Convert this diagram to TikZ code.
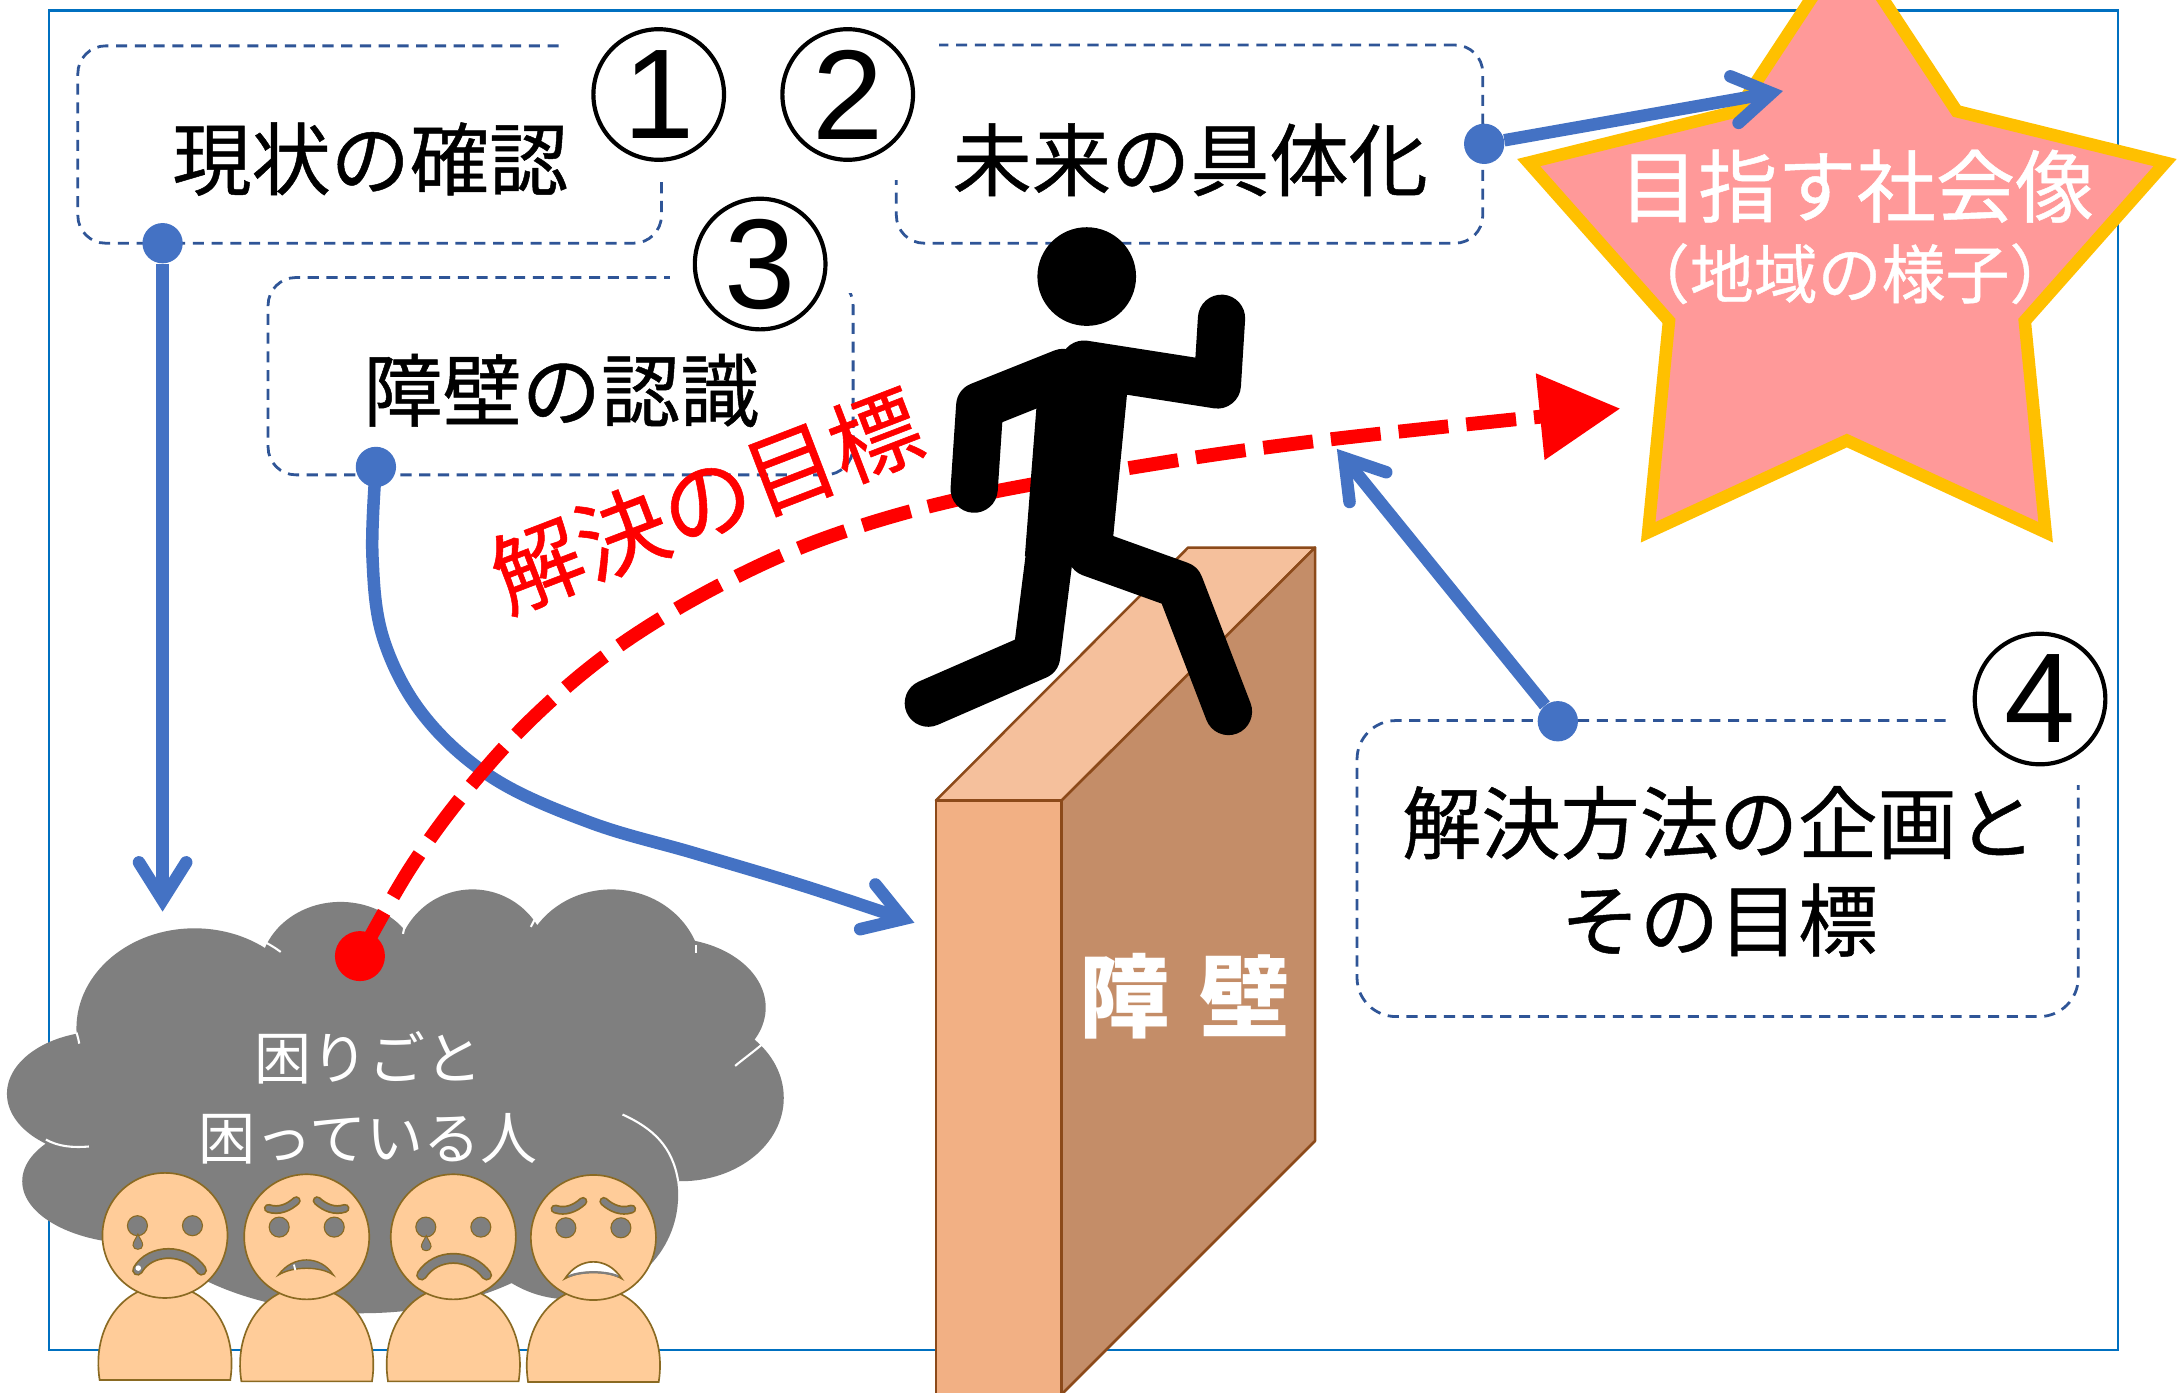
\documentclass[tikz,border=0pt]{standalone}
\usepackage{fontspec}
\newfontfamily\jp{Noto Sans CJK JP}
\newfontfamily\jpm{Noto Sans CJK JP}[FakeBold=0.6]
\newfontfamily\lsans{Liberation Sans}
\usetikzlibrary{arrows.meta}

\definecolor{frameblue}{HTML}{0070C0}
\definecolor{boxdash}{HTML}{2F5597}
\definecolor{linkblue}{HTML}{4472C4}
\definecolor{starpink}{HTML}{FF9999}
\definecolor{staredge}{HTML}{FFC000}
\definecolor{cloudgray}{HTML}{7F7F7F}
\definecolor{wallfront}{HTML}{F2B084}
\definecolor{walltop}{HTML}{F5C09C}
\definecolor{wallside}{HTML}{C48D68}
\definecolor{walledge}{HTML}{8C4A1A}
\definecolor{skin}{HTML}{FFCC99}
\definecolor{skinedge}{HTML}{8A6A22}

\tikzset{
  dashbox/.style={rectangle, draw=boxdash, line width=2pt, dash pattern=on 8pt off 5.5pt,
    rounded corners=20pt, inner sep=0pt},
  boxtext/.style={font=\jpm\fontsize{57}{70}\selectfont, inner sep=0pt, align=center},
  numring/.style={circle, draw=black, line width=3pt, minimum size=94pt, inner sep=0pt,
    font=\lsans\fontsize{92}{92}\selectfont},
  link/.style={draw=linkblue, line width=9pt,
    -{Straight Barb[length=27pt, width=34pt, line cap=round, line join=miter]}},
  linkdot/.style={circle, fill=linkblue, minimum size=29pt, inner sep=0pt},
  limb/.style={draw=black, line width=34pt, line cap=round, line join=round},
  wallface/.style={draw=walledge, line width=1.8pt, line join=round},
  whitetext/.style={text=white, inner sep=0pt, align=center},
  featline/.style={line cap=round},
  pics/figure/.style={code={
    \filldraw[fill=skin, draw=skinedge, line width=1.2pt]
      (-47,104) .. controls (-53,66) and (-30,36) .. (0,36)
      .. controls (30,36) and (53,66) .. (47,104) -- cycle;
    \filldraw[fill=skin, draw=skinedge, line width=1.2pt] (0,0) circle[radius=45pt];
    \filldraw[fill=cloudgray, draw=skinedge, line width=0.8pt]
      (-19.8,-7) circle[radius=7.2pt] (19.8,-7) circle[radius=7.2pt];
  }},
  pics/tear/.style={code={
    \filldraw[fill=cloudgray, draw=skinedge, line width=0.7pt]
      (-19.5,-1) .. controls (-18,2.5) and (-16,4.5) .. (-16,7)
      .. controls (-16,11) and (-23,11) .. (-23,7)
      .. controls (-23,4.5) and (-21,2.5) .. cycle;
  }},
  pics/brows/.style={code={
    \draw[skinedge, line width=6.5pt, featline]
      (-27.6,-20.5) .. controls (-20,-18) and (-13,-21) .. (-7.5,-26);
    \draw[cloudgray, line width=4pt, featline]
      (-27.6,-20.5) .. controls (-20,-18) and (-13,-21) .. (-7.5,-26);
    \draw[skinedge, line width=6.5pt, featline]
      (7.5,-26) .. controls (13,-21) and (20,-18) .. (27.6,-20.5);
    \draw[cloudgray, line width=4pt, featline]
      (7.5,-26) .. controls (13,-21) and (20,-18) .. (27.6,-20.5);
  }},
}

\begin{document}
\begin{tikzpicture}[x=1pt,y=-1pt]
\useasboundingbox (0,0) rectangle (1568,1002);
\clip (0,0) rectangle (1568,1002);
\fill[white] (0,0) rectangle (1568,1002);

% outer frame
\draw[frameblue, line width=1.6pt] (35,7.5) rectangle (1524,971.4);

% dashed step boxes
\node[dashbox, minimum width=420pt, minimum height=142pt] (box1) at (266,104) {};
\node[dashbox, minimum width=422pt, minimum height=142.6pt] (box2) at (856,103.7) {};
\node[dashbox, minimum width=421pt, minimum height=142pt] (box3) at (403.4,270.7) {};
\node[dashbox, minimum width=519pt, minimum height=213pt, rounded corners=28pt] (box4) at (1236,625) {};

% white patches behind the step numbers
\fill[white] (404,14) rectangle (484,129.5);
\fill[white] (556,14) rectangle (676,129.5);
\fill[white] (482,135) rectangle (620,211);
\fill[white] (1403,450) rectangle (1502,565);

% cloud of troubles
\fill[cloudgray]
  (140,740) ellipse[x radius=85pt, y radius=72pt]
  (75,787) ellipse[x radius=70pt, y radius=45pt]
  (100,850) ellipse[x radius=84pt, y radius=45pt]
  (260,850) ellipse[x radius=170pt, y radius=95pt]
  (245,700) ellipse[x radius=58pt, y radius=51pt]
  (340,695) ellipse[x radius=55pt, y radius=55pt]
  (440,700) ellipse[x radius=65pt, y radius=60pt]
  (480,725) ellipse[x radius=71pt, y radius=50pt]
  (490,790) ellipse[x radius=74pt, y radius=60pt]
  (410,860) ellipse[x radius=78pt, y radius=75pt]
  (280,790) ellipse[x radius=220pt, y radius=110pt];
\begin{scope}[white, line width=1.5pt]
  \draw (33,820) .. controls (42,825) and (52,826) .. (64,825);
  \draw (55,743) .. controls (56,746) and (56.5,748) .. (57,751);
  \draw (187,676) .. controls (193,679) and (198,682) .. (202,685);
  \draw (294,657) .. controls (292,662) and (291,667) .. (290,672);
  \draw (389,655) .. controls (386,659) and (384,663) .. (382,667);
  \draw (501,680) -- (501,686);
  \draw (549,751) .. controls (542,757) and (535,762) .. (529,767);
  \draw (448,802) .. controls (470,812) and (484,825) .. (488,850);
\end{scope}

% link 1: current state -> troubles
\node[linkdot] (d1) at (117,175) {};
\coordinate (t1) at (117,656);
\draw[link] (d1) -- (t1);

% link 2: barrier recognition -> wall
\node[linkdot] (d2) at (270.5,336) {};
\coordinate (t2) at (658,664);
\draw[link] plot[smooth, tension=0.6] coordinates
  {(d2) (268,400) (276,460) (305,515) (355,560) (425,592) (500,614) (580,638) (t2)};

% dashed red path of the goal
\coordinate (rstart) at (259,688);
\coordinate (rtip) at (1166,294);
\draw[red, line width=10pt, dash pattern=on 36pt off 13pt,
      -{Triangle[length=58pt, width=60pt]}]
  plot[smooth, tension=0.6] coordinates
  {(rstart) (295,625) (335,570) (385,515) (445,465) (520,420) (600,385)
   (700,357) (836,333) (934,319) (1040,307) (rtip)};
\node[circle, fill=red, minimum size=36pt, inner sep=0pt] (rdot) at (rstart) {};
\node[text=red, font=\jpm\fontsize{65}{65}\selectfont, rotate=21, inner sep=0pt]
  (goaltxt) at (508,360) {解決の目標};

% the wall
\filldraw[wallface, fill=wallfront] (673.5,576) rectangle (764,1010);
\filldraw[wallface, fill=walltop] (673.5,576) -- (855,394) -- (946.3,394) -- (764,576) -- cycle;
\filldraw[wallface, fill=wallside] (764,576) -- (946.3,394) -- (946.3,821) -- (764,1003.3) -- cycle;
\node[whitetext, font=\jp\bfseries\fontsize{65}{65}\selectfont] (walltxt) at (852.5,717) {障\hspace{0.32em}壁};

% runner
\fill[black] (782,199) circle[radius=35.5pt];
\fill[black] (748,265) -- (812.5,268) -- (800.5,392) -- (737.5,400) -- cycle;
\draw[limb] (765,268) -- (705,292) -- (701,352);
\draw[limb] (780,262) -- (876,277) -- (879,229);
\draw[limb] (757,385) -- (746,472) -- (668,506);
\draw[limb] (785,398) -- (849,421) -- (884,512);

% goal star
\filldraw[fill=starpink, draw=staredge, line width=9pt, line join=miter]
  (1329,-40) -- (1250,80) -- (1100,117) -- (1201,231) -- (1186,383) -- (1329,317)
  -- (1472,383) -- (1457,231) -- (1558,117) -- (1408,80) -- cycle;
\node[whitetext, font=\jpm\fontsize{57}{57}\selectfont] (goal) at (1336,134) {目指す社会像};
\node[whitetext, font=\jpm\fontsize{46}{46}\selectfont] (goalsub) at (1331,197) {（地域の様子）};

% link 3: concrete future -> star
\node[linkdot] (d3) at (1068,103.5) {};
\coordinate (t3) at (1283,65.5);
\draw[link] (d3) -- (t3);

% link 4: plan and target -> red path
\node[linkdot] (d4) at (1121,519) {};
\coordinate (t4) at (962,323);
\draw[link] (d4) -- (t4);

% box texts
\node[boxtext] (txt1) at (266.5,114.5) {現状の確認};
\node[boxtext] (txt2) at (856.5,115) {未来の具体化};
\node[boxtext] (txt3) at (404,281) {障壁の認識};
\node[boxtext] (txt4) at (1237,627) {解決方法の企画と\\その目標};

% step numbers
\node[numring] (n1) at (474,68) {1};
\node[numring] (n2) at (610,68) {2};
\node[numring] (n3) at (547,190) {3};
\node[numring] (n4) at (1468,503) {4};

% cloud text
\node[whitetext, font=\jp\fontsize{41}{58}\selectfont] (trouble) at (265,790) {困りごと\\困っている人};

% troubled people
\pic at (118.7,889) {figure};
\pic at (118.7,889) {tear};
\draw[skinedge, line width=8pt, featline] (99,914) .. controls (108,898) and (134,898) .. (145,914);
\draw[cloudgray, line width=5.5pt, featline] (99,914) .. controls (108,898) and (134,898) .. (145,914);
\fill[white] (99.5,912.5) circle[radius=2pt];

\pic at (220.7,890) {figure};
\pic at (220.7,890) {brows};
\filldraw[fill=cloudgray, draw=skinedge, line width=1pt]
  (200.3,917.5) .. controls (210.7,903) and (230.7,903) .. (239.9,917.5)
  .. controls (230.7,911) and (210.7,911) .. cycle;
\draw[white, line width=1.3pt] (211.5,910) -- (212.5,914);

\pic at (326.2,890) {figure};
\pic at (326.2,890) {tear};
\draw[skinedge, line width=8pt, featline] (303.4,917.5) .. controls (314,901.5) and (338,901.5) .. (350.2,917.5);
\draw[cloudgray, line width=5.5pt, featline] (303.4,917.5) .. controls (314,901.5) and (338,901.5) .. (350.2,917.5);

\pic at (427,890.5) {figure};
\pic at (427,890.5) {brows};
\filldraw[fill=white, draw=skinedge, line width=1.2pt]
  (406.6,920) .. controls (417,904) and (437,904) .. (447.3,920)
  .. controls (437,914) and (417,914) .. cycle;
\draw[cloudgray, line width=1.6pt] (409,918.5) .. controls (418,914.5) and (436,914.5) .. (445,918.5);
\end{tikzpicture}
\end{document}
